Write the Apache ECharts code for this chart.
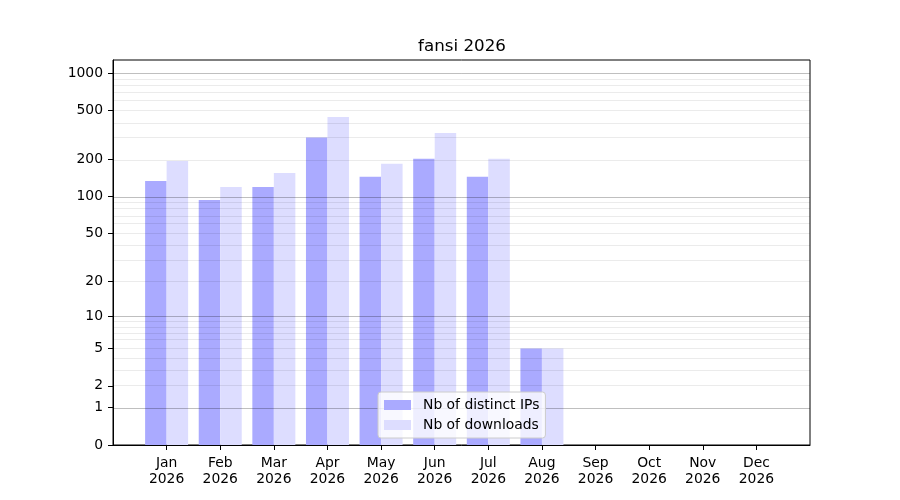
<!DOCTYPE html>
<html>
<head>
<meta charset="utf-8">
<title>fansi 2026</title>
<script src="https://cdn.jsdelivr.net/npm/echarts@6/dist/echarts.min.js"></script>
<style>
  html, body { margin: 0; padding: 0; background: #fff; }
  #chart { width: 900px; height: 500px; }
</style>
</head>
<body>
<div id="chart"></div>
<script>
// 数据
const months = ['Jan', 'Feb', 'Mar', 'Apr', 'May', 'Jun', 'Jul', 'Aug', 'Sep', 'Oct', 'Nov', 'Dec'];
const year = '2026';
const distinctIPs = [134, 94, 120, 302, 145, 203, 145, 5, 0, 0, 0, 0];
const downloads = [195, 120, 156, 443, 185, 329, 203, 5, 0, 0, 0, 0];
const yTicks = [0, 1, 2, 5, 10, 20, 50, 100, 200, 500, 1000];
const majorGrid = [1, 10, 100, 1000];
const minorGrid = [2, 3, 4, 5, 6, 7, 8, 9, 20, 30, 40, 50, 60, 70, 80, 90,
  200, 300, 400, 500, 600, 700, 800, 900];
const yMax = 1278;

// y 轴使用 log10(1 + x) 变换
function tr(v) {
  return Math.log10(1 + v);
}

function toPoints(values) {
  return values.map((v, i) => [i, tr(v)]);
}

const font = 'DejaVu Sans';
const chart = echarts.init(document.getElementById('chart'));

const gridLines = majorGrid.map(v => ({
  yAxis: tr(v),
  lineStyle: { color: 'rgba(0,0,0,0.25)', width: 1, type: 'solid' }
})).concat(minorGrid.map(v => ({
  yAxis: tr(v),
  lineStyle: { color: 'rgba(0,0,0,0.08)', width: 1, type: 'solid' }
})));

const option = {
  animation: false,
  backgroundColor: '#fff',
  title: {
    text: 'fansi ' + year,
    left: 457,
    textAlign: 'center',
    top: 33,
    textStyle: { fontFamily: font, fontSize: 16.7, fontWeight: 'normal', color: '#000' }
  },
  legend: {
    data: ['Nb of distinct IPs', 'Nb of downloads'],
    orient: 'vertical',
    left: 378,
    top: 392,
    z: 10,
    padding: [5, 6, 5, 6],
    itemGap: 4,
    itemWidth: 27,
    itemHeight: 10,
    icon: 'rect',
    backgroundColor: 'rgba(255,255,255,0.8)',
    borderColor: '#cccccc',
    borderWidth: 1,
    borderRadius: 3,
    textStyle: {
      fontFamily: font,
      fontSize: 13.9,
      lineHeight: 16,
      color: '#000',
      padding: [0, 0, 0, 7]
    }
  },
  grid: {
    left: 113,
    right: 90,
    top: 60,
    bottom: 55,
    show: true,
    borderColor: '#000',
    borderWidth: 1,
    backgroundColor: 'transparent'
  },
  xAxis: {
    type: 'value',
    min: -1,
    max: 12,
    interval: 1,
    splitLine: { show: false },
    axisLine: { show: true, onZero: false, lineStyle: { color: '#000', width: 1 } },
    axisTick: {
      show: true,
      length: 5,
      customValues: months.map((m, i) => i),
      lineStyle: { color: '#000' }
    },
    axisLabel: {
      customValues: months.map((m, i) => i),
      margin: 10,
      fontFamily: font,
      fontSize: 13.9,
      lineHeight: 16,
      color: '#000',
      formatter: function (v) {
        return months[v] + '\n' + year;
      }
    }
  },
  yAxis: {
    type: 'value',
    min: 0,
    max: tr(yMax),
    splitLine: { show: false },
    axisLine: { show: true, onZero: false, lineStyle: { color: '#000', width: 1 } },
    axisTick: {
      show: true,
      length: 5,
      customValues: yTicks.map(tr),
      lineStyle: { color: '#000' }
    },
    axisLabel: {
      customValues: yTicks.map(tr),
      margin: 10,
      fontFamily: font,
      fontSize: 13.9,
      color: '#000',
      formatter: function (v) {
        return String(Math.round(Math.pow(10, v) - 1));
      }
    }
  },
  series: [
    {
      name: 'Nb of distinct IPs',
      type: 'bar',
      data: toPoints(distinctIPs),
      barWidth: 21.5,
      barGap: '0%',
      itemStyle: { color: '#aaaaff' }
    },
    {
      name: 'Nb of downloads',
      type: 'bar',
      data: toPoints(downloads),
      barWidth: 21.5,
      barGap: '0%',
      itemStyle: { color: '#ddddff' }
    },
    {
      // 网格线画在柱子上面
      name: 'grid',
      type: 'line',
      data: [],
      z: 5,
      silent: true,
      markLine: {
        silent: true,
        symbol: 'none',
        animation: false,
        label: { show: false },
        data: gridLines
      }
    }
  ]
};

chart.setOption(option);
</script>
</body>
</html>
